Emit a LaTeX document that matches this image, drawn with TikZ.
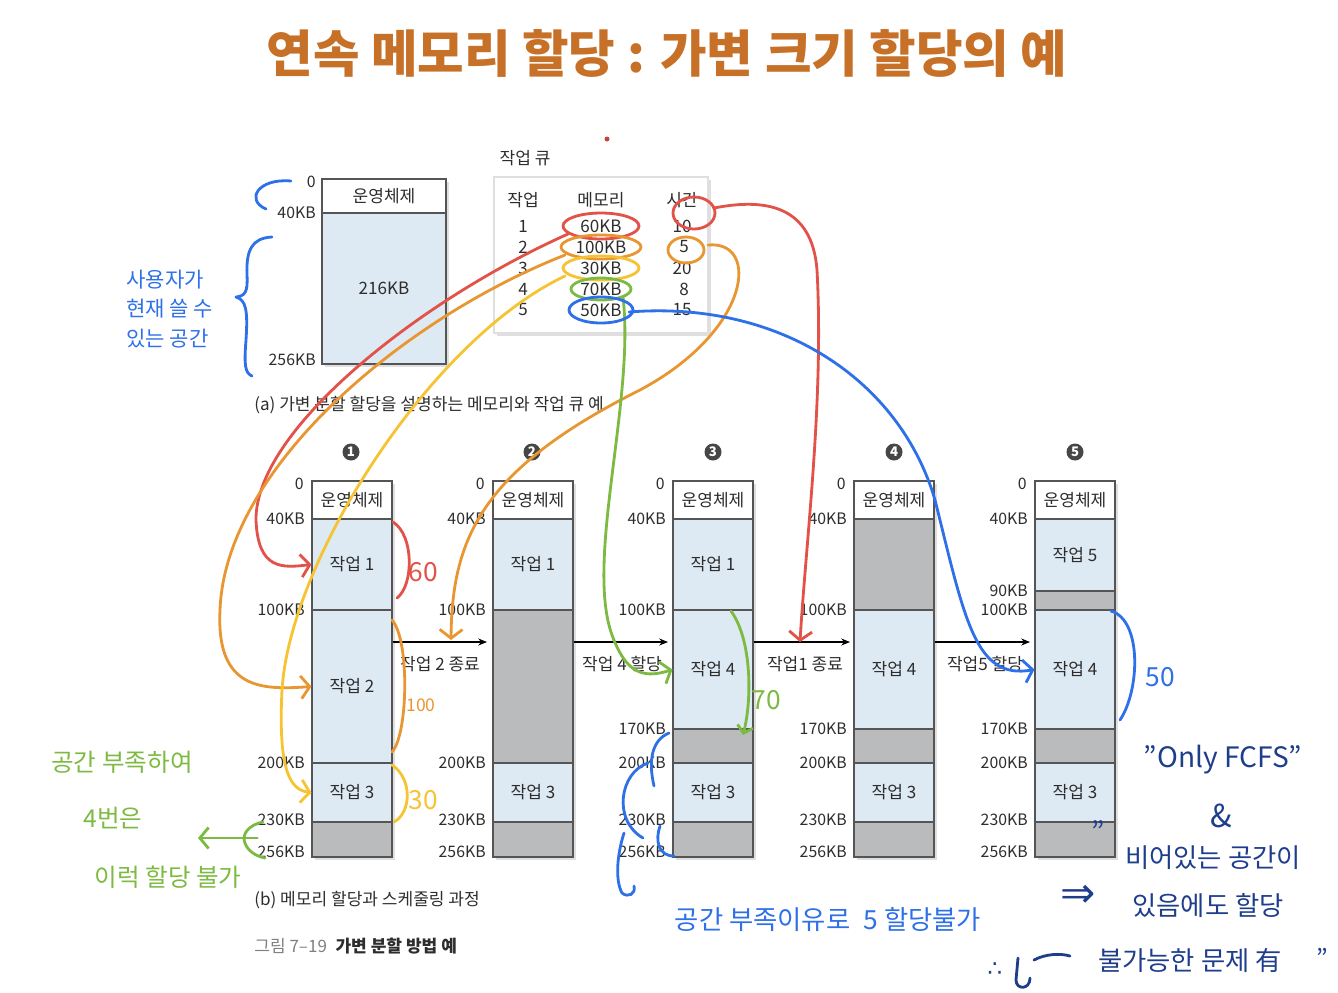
\documentclass[tikz,border=0pt]{standalone}
\usepackage{fontspec}
\setmainfont{Noto Sans CJK KR}
\newfontfamily\symfont{DejaVu Sans}
\usetikzlibrary{arrows.meta,fit,shadows}

\definecolor{titlecol}{RGB}{198,112,40}
\definecolor{jobblue}{RGB}{221,233,243}
\definecolor{freegray}{RGB}{186,187,189}
\definecolor{segline}{RGB}{85,85,85}
\definecolor{textgray}{RGB}{45,45,45}
\definecolor{numgray}{RGB}{70,70,70}
\definecolor{hred}{RGB}{226,82,72}
\definecolor{horange}{RGB}{232,150,50}
\definecolor{hyellow}{RGB}{246,196,50}
\definecolor{hgreen}{RGB}{125,186,66}
\definecolor{hblue}{RGB}{45,112,232}
\definecolor{hnavy}{RGB}{30,62,140}

\newcommand\lblsize{\fontsize{9.7}{11}\selectfont}
\newcommand\addrsize{\fontsize{9}{11}\selectfont}
\newcommand\handsize{\fontsize{15}{18}\selectfont}

\tikzset{
  memframe/.style={fill=white, draw=segline, line width=0.6pt, inner sep=0pt,
    drop shadow={opacity=0.25, shadow xshift=1.5pt, shadow yshift=-1.5pt}},
  seg/.style={draw=segline, line width=0.6pt, inner sep=0pt},
  osseg/.style={seg, fill=white},
  jobseg/.style={seg, fill=jobblue},
  freeseg/.style={seg, fill=freegray},
  addr/.style={anchor=east, inner sep=0pt, text=textgray, font=\addrsize},
  txt/.style={inner sep=0pt, text=textgray, font=\lblsize},
  stepno/.style={circle, fill=numgray, text=white, inner sep=0pt, minimum size=0.34cm,
    font=\fontsize{7.5}{8}\selectfont\bfseries},
  flow/.style={-{Stealth[length=5pt,width=4pt]}, line width=0.6pt, black},
  pen/.style={line width=1.6pt, line cap=round, line join=round},
  tipr/.style={-{Straight Barb[length=5pt,width=13pt]}},
  hand/.style={inner sep=0pt, font=\handsize},
}

\begin{document}
\begin{tikzpicture}[x=0.02cm,y=-0.02cm]
\useasboundingbox (0,0) rectangle (1338,992);

% title
\node[inner sep=0pt, text=titlecol, font=\fontsize{28.8}{34}\selectfont\bfseries] (title) at (667,53) {연속 메모리 할당 : 가변 크기 할당의 예};

% (a) memory and job queue
\node[memframe, fit={(322,179) (446,364)}] (amem) {};
\node[osseg, fit={(322,179) (446,213)}, label={[txt]center:운영체제}] (aos) {};
\node[jobseg, fit={(322,213) (446,364)}, label={[txt]center:216KB}] (afree) {};
\node[addr] (aa0) at (316,182) {0};
\node[addr] (aa40) at (316,213) {40KB};
\node[addr] (aa256) at (316,360) {256KB};

\node[txt] (qtitle) at (525,158) {작업 큐};
\node[memframe, draw=gray!25, fit={(494,177) (708,333)}] (queue) {};
\node[txt] (hj) at (523,200) {작업};
\node[txt] (hm) at (601,200) {메모리};
\node[txt] (ht) at (682,200) {시간};
\node[txt] (j1) at (523,226) {1};
\node[txt] (m1) at (601,226) {60KB};
\node[txt] (t1) at (682,226) {10};
\node[txt] (j2) at (523,247) {2};
\node[txt] (m2) at (601,247) {100KB};
\node[txt] (t2) at (684,247) {5};
\node[txt] (j3) at (523,268) {3};
\node[txt] (m3) at (601,268) {30KB};
\node[txt] (t3) at (682,268) {20};
\node[txt] (j4) at (523,289) {4};
\node[txt] (m4) at (601,289) {70KB};
\node[txt] (t4) at (684,289) {8};
\node[txt] (j5) at (523,310) {5};
\node[txt] (m5) at (601,310) {50KB};
\node[txt] (t5) at (682,310) {15};
\node[txt, anchor=west] (capa) at (254,405) {(a) 가변 분할 할당을 설명하는 메모리와 작업 큐 예};

% (b) five steps
\begin{scope}[shift={(312,0)}]
\node[stepno] (n1) at (39,452) {1};
\node[memframe, fit={(0,481) (80,857)}] (col1) {};
\node[osseg, fit={(0,481) (80,519)}, label={[txt]center:운영체제}] (c1os) {};
\node[jobseg, fit={(0,519) (80,610)}, label={[txt]center:작업 1}] (c1j1) {};
\node[jobseg, fit={(0,610) (80,763)}, label={[txt]center:작업 2}] (c1j2) {};
\node[jobseg, fit={(0,763) (80,822)}, label={[txt]center:작업 3}] (c1j3) {};
\node[freeseg, fit={(0,822) (80,857)}] (c1f1) {};
\node[addr] (c1a0) at (-8,484) {0};
\node[addr] (c1a40) at (-7,519) {40KB};
\node[addr] (c1a100) at (-7,610) {100KB};
\node[addr] (c1a200) at (-7,763) {200KB};
\node[addr] (c1a230) at (-7,820) {230KB};
\node[addr] (c1a256) at (-7,852) {256KB};
\end{scope}
\begin{scope}[shift={(493,0)}]
\node[stepno] (n2) at (39,452) {2};
\node[memframe, fit={(0,481) (80,857)}] (col2) {};
\node[osseg, fit={(0,481) (80,519)}, label={[txt]center:운영체제}] (c2os) {};
\node[jobseg, fit={(0,519) (80,610)}, label={[txt]center:작업 1}] (c2j1) {};
\node[freeseg, fit={(0,610) (80,763)}] (c2f1) {};
\node[jobseg, fit={(0,763) (80,822)}, label={[txt]center:작업 3}] (c2j3) {};
\node[freeseg, fit={(0,822) (80,857)}] (c2f2) {};
\node[addr] (c2a0) at (-8,484) {0};
\node[addr] (c2a40) at (-7,519) {40KB};
\node[addr] (c2a100) at (-7,610) {100KB};
\node[addr] (c2a200) at (-7,763) {200KB};
\node[addr] (c2a230) at (-7,820) {230KB};
\node[addr] (c2a256) at (-7,852) {256KB};
\end{scope}
\begin{scope}[shift={(673,0)}]
\node[stepno] (n3) at (40,452) {3};
\node[memframe, fit={(0,481) (80,857)}] (col3) {};
\node[osseg, fit={(0,481) (80,519)}, label={[txt]center:운영체제}] (c3os) {};
\node[jobseg, fit={(0,519) (80,610)}, label={[txt]center:작업 1}] (c3j1) {};
\node[jobseg, fit={(0,610) (80,729)}, label={[txt]center:작업 4}] (c3j4) {};
\node[freeseg, fit={(0,729) (80,763)}] (c3f1) {};
\node[jobseg, fit={(0,763) (80,822)}, label={[txt]center:작업 3}] (c3j3) {};
\node[freeseg, fit={(0,822) (80,857)}] (c3f2) {};
\node[addr] (c3a0) at (-8,484) {0};
\node[addr] (c3a40) at (-7,519) {40KB};
\node[addr] (c3a100) at (-7,610) {100KB};
\node[addr] (c3a170) at (-7,729) {170KB};
\node[addr] (c3a200) at (-7,763) {200KB};
\node[addr] (c3a230) at (-7,820) {230KB};
\node[addr] (c3a256) at (-7,852) {256KB};
\end{scope}
\begin{scope}[shift={(854,0)}]
\node[stepno] (n4) at (40,452) {4};
\node[memframe, fit={(0,481) (80,857)}] (col4) {};
\node[osseg, fit={(0,481) (80,519)}, label={[txt]center:운영체제}] (c4os) {};
\node[freeseg, fit={(0,519) (80,610)}] (c4f1) {};
\node[jobseg, fit={(0,610) (80,729)}, label={[txt]center:작업 4}] (c4j4) {};
\node[freeseg, fit={(0,729) (80,763)}] (c4f2) {};
\node[jobseg, fit={(0,763) (80,822)}, label={[txt]center:작업 3}] (c4j3) {};
\node[freeseg, fit={(0,822) (80,857)}] (c4f3) {};
\node[addr] (c4a0) at (-8,484) {0};
\node[addr] (c4a40) at (-7,519) {40KB};
\node[addr] (c4a100) at (-7,610) {100KB};
\node[addr] (c4a170) at (-7,729) {170KB};
\node[addr] (c4a200) at (-7,763) {200KB};
\node[addr] (c4a230) at (-7,820) {230KB};
\node[addr] (c4a256) at (-7,852) {256KB};
\end{scope}
\begin{scope}[shift={(1035,0)}]
\node[stepno] (n5) at (40,452) {5};
\node[memframe, fit={(0,481) (80,857)}] (col5) {};
\node[osseg, fit={(0,481) (80,519)}, label={[txt]center:운영체제}] (c5os) {};
\node[jobseg, fit={(0,519) (80,591)}, label={[txt]center:작업 5}] (c5j5) {};
\node[freeseg, fit={(0,591) (80,610)}] (c5f1) {};
\node[jobseg, fit={(0,610) (80,729)}, label={[txt]center:작업 4}] (c5j4) {};
\node[freeseg, fit={(0,729) (80,763)}] (c5f2) {};
\node[jobseg, fit={(0,763) (80,822)}, label={[txt]center:작업 3}] (c5j3) {};
\node[freeseg, fit={(0,822) (80,857)}] (c5f3) {};
\node[addr] (c5a0) at (-8,484) {0};
\node[addr] (c5a40) at (-7,519) {40KB};
\node[addr] (c5a90) at (-7,591) {90KB};
\node[addr] (c5a100) at (-7,610) {100KB};
\node[addr] (c5a170) at (-7,729) {170KB};
\node[addr] (c5a200) at (-7,763) {200KB};
\node[addr] (c5a230) at (-7,820) {230KB};
\node[addr] (c5a256) at (-7,852) {256KB};
\end{scope}

% transitions
\coordinate (ar1) at (487,642);
\coordinate (ar2) at (668,642);
\coordinate (ar3) at (850,642);
\coordinate (ar4) at (1030,642);
\draw[flow] (c1j2.east |- ar1) -- (ar1);
\draw[flow] (c2f1.east |- ar2) -- (ar2);
\draw[flow] (c3j4.east |- ar3) -- (ar3);
\draw[flow] (c4j4.east |- ar4) -- (ar4);
\node[txt] (ev1) at (440,664) {작업 2 종료};
\node[txt] (ev2) at (622,664) {작업 4 할당};
\node[txt] (ev3) at (805,664) {작업1 종료};
\node[txt] (ev4) at (985,664) {작업5 할당};

\node[txt, anchor=west] (capb) at (254,900) {(b) 메모리 할당과 스케줄링 과정};
\node[txt, anchor=west] (capf) at (254,946) {\textcolor{gray}{그림 7–19}\enspace\textbf{가변 분할 방법 예}};

% handwriting
\fill[hred!85!black] (607,139) circle (2.5);
\coordinate (r1end) at (800,642);
\coordinate (o2end) at (451,640);
\coordinate (gtip) at (198,838);

\draw[pen, hred] (m1) ellipse [x radius=38, y radius=13];
\draw[pen, hred, tipr] ([shift={(-33,8)}]m1.center) .. controls (420,300) and (255,430) .. (256,520) .. controls (258,570) and (282,568) .. (c1j1.west);
\draw[pen, hred] ([shift={(12,-13)}]t1.center) ellipse [x radius=21, y radius=16];
\draw[pen, hred, tipr] ([shift={(32,-18)}]t1.center) .. controls (765,198) and (812,205) .. (817,270) .. controls (824,400) and (806,540) .. (r1end);

\draw[pen, horange] (m2) ellipse [x radius=40, y radius=12];
\draw[pen, horange, tipr] ([shift={(-36,8)}]m2.center) .. controls (400,320) and (225,470) .. (220,610) .. controls (216,690) and (262,690) .. (c1j2.west);
\draw[pen, horange] ([shift={(2,3)}]t2.center) ellipse [x radius=18, y radius=13];
\draw[pen, horange, tipr] ([shift={(24,-2)}]t2.center) .. controls (760,240) and (752,330) .. (640,390) .. controls (480,470) and (452,540) .. (o2end);

\draw[pen, hyellow] (m3) ellipse [x radius=38, y radius=12];
\draw[pen, hyellow, tipr] ([shift={(-36,8)}]m3.center) .. controls (430,340) and (290,560) .. (282,690) .. controls (278,770) and (290,790) .. (c1j3.west);

\draw[pen, hgreen] (m4) ellipse [x radius=30, y radius=11];
\draw[pen, hgreen, tipr] ([shift={(22,8)}]m4.center) .. controls (635,400) and (585,560) .. (612,635) .. controls (625,670) and (640,680) .. (c3j4.west);

\draw[pen, hblue] (m5) ellipse [x radius=32, y radius=13];
\draw[pen, hblue, tipr] ([shift={(28,2)}]m5.center) .. controls (780,300) and (900,380) .. (935,500) .. controls (965,620) and (975,680) .. (c5j4.west);

% size brackets
\draw[pen, hred] (393,522) .. controls (414,535) and (414,585) .. (397,598);
\node[hand, hred] (h60) at (423,572) {60};
\draw[pen, horange] (392,620) .. controls (410,640) and (408,735) .. (392,752);
\node[hand, horange, font=\fontsize{10}{12}\selectfont] (h100) at (421,705) {100};
\draw[pen, hyellow] (392,765) .. controls (412,778) and (412,812) .. (394,822);
\node[hand, hyellow] (h30) at (423,800) {30};
\draw[pen, hgreen, -{Straight Barb[length=4pt,width=9pt]}] (731,611) .. controls (752,640) and (752,700) .. (743,735);
\node[hand, hgreen] (h70) at (766,700) {70};
\draw[pen, hblue] (1111,611) .. controls (1142,620) and (1140,690) .. (1120,720);
\node[hand, hblue] (h50) at (1160,677) {50};

% user space note
\draw[pen, hblue] (291,181) .. controls (258,178) and (245,200) .. (266,209);
\draw[pen, hblue] (272,237) .. controls (252,238) and (246,250) .. (247,275) .. controls (248,292) and (245,296) .. (236,297) .. controls (246,300) and (248,310) .. (246,340) .. controls (244,365) and (245,373) .. (252,376);
\node[hand, hblue, anchor=west, font=\fontsize{12}{14}\selectfont] (u1) at (126,280) {사용자가};
\node[hand, hblue, anchor=west, font=\fontsize{12}{14}\selectfont] (u2) at (126,309) {현재 쓸 수};
\node[hand, hblue, anchor=west, font=\fontsize{12}{14}\selectfont] (u3) at (126,339) {있는 공간};

% job 4 note
\draw[pen, hgreen] (263,822) .. controls (248,825) and (244,834) .. (244,838) .. controls (244,845) and (250,855) .. (265,858);
\draw[pen, hgreen, -{Straight Barb[length=5pt,width=12pt]}] (c1a256.north west |- gtip) -- (gtip);
\node[hand, hgreen, font=\fontsize{14}{17}\selectfont] (g1) at (122,762) {공간 부족하여};
\node[hand, hgreen, font=\fontsize{14}{17}\selectfont] (g2) at (113,818) {4번은};
\node[hand, hgreen, font=\fontsize{14}{17}\selectfont] (g3) at (168,877) {이럭 할당 불가};

% job 5 note
\draw[pen, hblue] (669,733) .. controls (652,740) and (648,760) .. (654,786);
\draw[pen, hblue] (648,763) .. controls (620,772) and (612,820) .. (643,838);
\draw[pen, hblue] (660,826) .. controls (655,840) and (658,856) .. (674,856);
\draw[pen, hblue] (624,833) .. controls (617,855) and (615,880) .. (622,893) .. controls (628,898) and (636,894) .. (634,886);
\node[hand, hblue] (b1) at (828,920) {공간 부족이유로\enspace 5 할당불가};

% FCFS note
\node[hand, hnavy, font=\fontsize{16}{19}\selectfont] (f1) at (1223,760) {"Only FCFS"};
\node[hand, hnavy, font=\fontsize{18}{21}\selectfont] (f2) at (1221,816) {\&};
\node[hand, hnavy, font=\fontsize{16}{18}\selectfont] (f3) at (1098,832) {"};
\node[hand, hnavy] (f4) at (1213,858) {비어있는 공간이};
\node[hand, hnavy, font=\symfont\fontsize{24}{26}\selectfont] (f5a) at (1078,896) {⇒};
\node[hand, hnavy] (f5) at (1208,905) {있음에도 할당};
\node[hand, hnavy, font=\symfont\fontsize{13}{16}\selectfont] (f6a) at (995,970) {∴};
\draw[pen, hnavy] (1018,958) -- (1016,980) .. controls (1016,990) and (1030,990) .. (1030,978);
\draw[pen, hnavy] (1034,960) .. controls (1045,954) and (1060,953) .. (1070,956);
\node[hand, hnavy] (f6) at (1190,960) {불가능한 문제 有};
\node[hand, hnavy, font=\fontsize{14}{16}\selectfont] (f6b) at (1322,958) {"};
\end{tikzpicture}
\end{document}
